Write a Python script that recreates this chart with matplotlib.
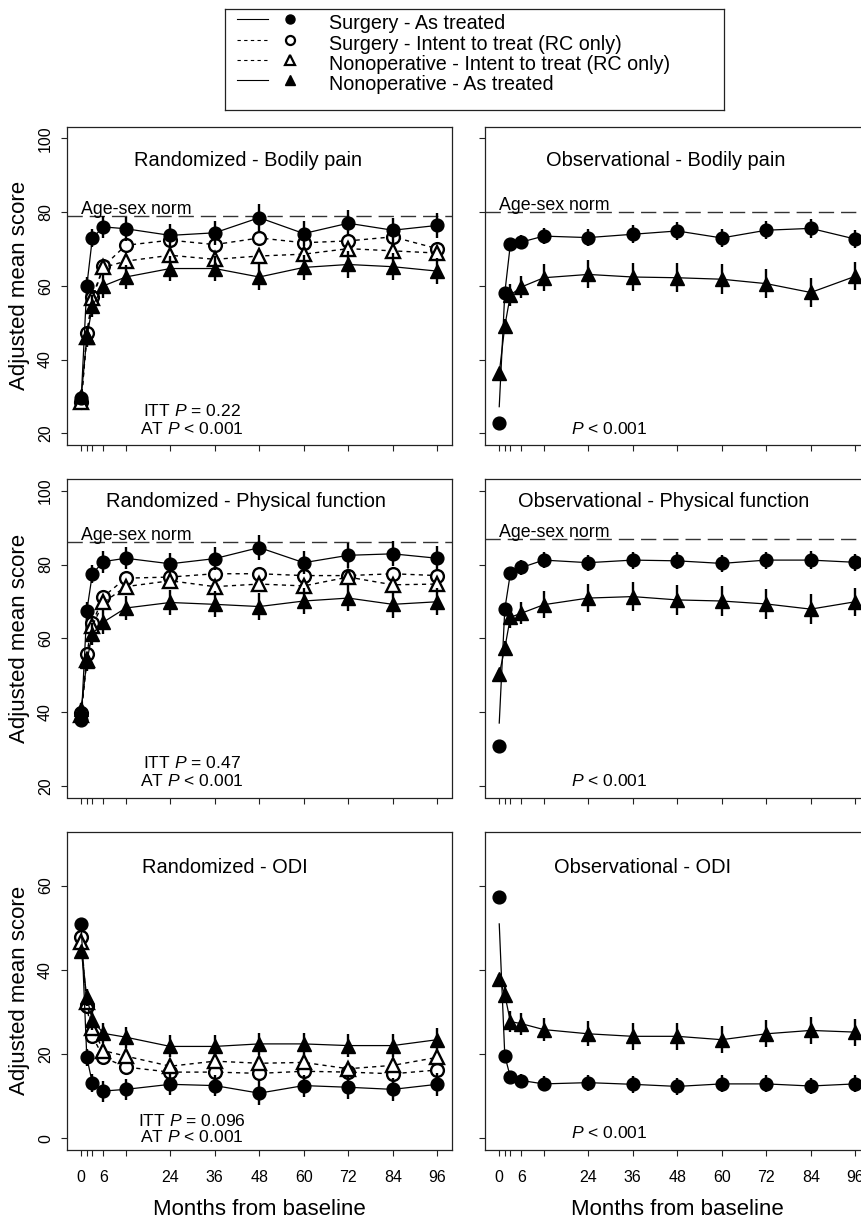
import numpy as np
import matplotlib.pyplot as plt

plt.rcParams['font.family'] = ['Liberation Sans', 'DejaVu Sans']
plt.rcParams['mathtext.fontset'] = 'custom'
plt.rcParams['mathtext.rm'] = 'Liberation Sans'
plt.rcParams['mathtext.it'] = 'Liberation Sans:italic'

W, H = 862, 1219

months = [0, 1.5, 3, 6, 12, 24, 36, 48, 60, 72, 84, 96]
tick_labels = ['0', '', '', '6', '', '24', '36', '48', '60', '72', '84', '96']

legend_labels = ['Surgery - As treated',
                 'Surgery - Intent to treat (RC only)',
                 'Nonoperative - Intent to treat (RC only)',
                 'Nonoperative - As treated']

# Randomized - Bodily pain
bp_rand_sx_at = [29.5, 60, 73, 76, 75.5, 73.7, 74.4, 78.5, 74.2, 77, 75.1, 76.4]
bp_rand_sx_itt = [28.5, 47.1, 57, 65.3, 71, 72.4, 71.2, 73, 71.7, 72.2, 73.3, 70.1]
bp_rand_no_itt = [28.6, 46.2, 56.6, 65, 66.7, 68.3, 67.2, 68.1, 68.6, 70.1, 69.5, 68.9]
bp_rand_no_at = [30, 46, 54.5, 60, 62.4, 64.7, 64.7, 62.4, 65, 65.8, 65.2, 64]
bp_rand_sx_err = [1.5, 2.5, 2.5, 3, 3.2, 3, 3.2, 3.6, 3.3, 3.5, 3.4, 3.5]
bp_rand_no_err = [1.5, 2.5, 3, 3.2, 3.3, 3.5, 3.5, 3.6, 3.5, 3.6, 3.6, 3.6]

# Observational - Bodily pain
bp_obs_sx_at = [22.7, 58.1, 71.3, 71.9, 73.5, 73.1, 74, 74.9, 73, 75.1, 75.6, 72.7]
bp_obs_sx_start = 27.2
bp_obs_no_at = [36.3, 49.1, 57.5, 59.7, 62.2, 63.1, 62.4, 62.2, 61.8, 60.6, 58.2, 62.6]
bp_obs_sx_err = [0, 1.5, 1.5, 2, 2.2, 2.2, 2.4, 2.4, 2.5, 2.4, 2.5, 2.4]
bp_obs_no_err = [1, 2, 3, 3, 3.6, 3.8, 3.8, 4, 4, 4, 4, 3.8]

# Randomized - Physical function
pf_rand_sx_at = [37.7, 67.4, 77.5, 80.8, 81.7, 80.2, 81.6, 84.6, 80.5, 82.5, 82.9, 81.7]
pf_rand_sx_itt = [39.7, 55.8, 64.1, 71.3, 76.3, 76.6, 77.5, 77.5, 77, 77, 77.5, 77]
pf_rand_no_itt = [39.2, 54, 63.4, 69.7, 74, 75.6, 74, 74.7, 74.2, 76.6, 74.5, 74.7]
pf_rand_no_at = [40.8, 53.7, 61.2, 64.4, 68.2, 69.7, 69.2, 68.6, 70.1, 70.9, 69.2, 69.9]
pf_rand_sx_err = [1.5, 2.5, 2.5, 3, 3, 3, 3.2, 3.4, 3.2, 3.4, 3.4, 3.4]
pf_rand_no_err = [1.5, 2.5, 3, 3.2, 3.3, 3.5, 3.5, 3.6, 3.5, 3.6, 3.6, 3.6]

# Observational - Physical function
pf_obs_sx_at = [30.8, 67.9, 77.6, 79.2, 81.2, 80.5, 81.2, 81, 80.3, 81.2, 81.2, 80.6]
pf_obs_sx_start = 37
pf_obs_no_at = [50.3, 57.3, 65.7, 66.8, 69.1, 70.9, 71.3, 70.4, 70.1, 69.3, 67.9, 69.9]
pf_obs_sx_err = [0, 1.2, 1.5, 2, 2.2, 2.2, 2.3, 2.3, 2.4, 2.3, 2.4, 2.3]
pf_obs_no_err = [1, 2, 3, 3, 3.6, 3.8, 4, 4, 4, 4, 4, 3.8]

# Randomized - ODI
odi_rand_sx_at = [50.8, 19.2, 13.1, 11.2, 11.6, 12.8, 12.5, 10.7, 12.5, 12.1, 11.6, 12.8]
odi_rand_sx_itt = [47.7, 31.3, 24.2, 19.2, 16.9, 15.7, 15.7, 15.4, 15.9, 15.7, 15.3, 16.2]
odi_rand_no_itt = [46.6, 32.3, 26.2, 20.8, 19.5, 17.1, 18.3, 17.8, 18, 16.5, 17.3, 19.2]
odi_rand_no_at = [44.4, 33.5, 28, 24.9, 24, 21.8, 21.8, 22.4, 22.4, 22, 22, 23.4]
odi_rand_sx_err = [1, 2, 2.2, 2.5, 2.5, 2.5, 2.5, 2.8, 2.6, 2.7, 2.7, 2.7]
odi_rand_no_err = [1, 2, 2.2, 2.4, 2.5, 2.6, 2.6, 2.7, 2.7, 2.8, 2.8, 2.8]

# Observational - ODI
odi_obs_sx_at = [57.2, 19.6, 14.5, 13.7, 12.9, 13.2, 12.8, 12.3, 12.9, 12.9, 12.4, 12.9]
odi_obs_sx_start = 50.9
odi_obs_no_at = [37.9, 34.1, 27.7, 27.2, 25.8, 24.8, 24.2, 24.2, 23.4, 24.8, 25.6, 25.2]
odi_obs_sx_err = [0, 1.2, 1.5, 1.6, 1.8, 1.9, 2, 2, 2, 2, 2, 2]
odi_obs_no_err = [1, 2, 2.5, 2.6, 2.8, 3, 3.2, 3.2, 3.2, 3.2, 3.2, 3.2]

norm_bp = [79, 80]
norm_pf = [86, 87]

sx_at_style = dict(marker='o', ms=9.2, mfc='black', mec='black', ls='-')
sx_itt_style = dict(marker='o', ms=9.2, mfc='white', mec='black', mew=1.7, ls=(0, (3, 3)))
no_itt_style = dict(marker='^', ms=10.5, mfc='white', mec='black', mew=1.7, ls=(0, (3, 3)))
no_at_style = dict(marker='^', ms=10.5, mfc='black', mec='black', ls='-')

panels = [
    dict(col=0, row=0, title='Randomized - Bodily pain', title_xy=(45, 93.9), norm=norm_bp[0],
         at=[(bp_rand_sx_at, bp_rand_sx_err, None), (bp_rand_no_at, bp_rand_no_err, None)],
         itt=[bp_rand_sx_itt, bp_rand_no_itt], ptext=[(25.9, 'ITT $P$ = 0.22'), (21.2, 'AT $P$ < 0.001')]),
    dict(col=1, row=0, title='Observational - Bodily pain', title_xy=(45, 93.9), norm=norm_bp[1],
         at=[(bp_obs_sx_at, bp_obs_sx_err, bp_obs_sx_start), (bp_obs_no_at, bp_obs_no_err, None)],
         itt=None, ptext=[(21.2, '$P$ < 0.001')]),
    dict(col=0, row=1, title='Randomized - Physical function', title_xy=(44.4, 97), norm=norm_pf[0],
         at=[(pf_rand_sx_at, pf_rand_sx_err, None), (pf_rand_no_at, pf_rand_no_err, None)],
         itt=[pf_rand_sx_itt, pf_rand_no_itt], ptext=[(26.1, 'ITT $P$ = 0.47'), (21.4, 'AT $P$ < 0.001')]),
    dict(col=1, row=1, title='Observational - Physical function', title_xy=(44.4, 97), norm=norm_pf[1],
         at=[(pf_obs_sx_at, pf_obs_sx_err, pf_obs_sx_start), (pf_obs_no_at, pf_obs_no_err, None)],
         itt=None, ptext=[(21.4, '$P$ < 0.001')]),
    dict(col=0, row=2, title='Randomized - ODI', title_xy=(38.7, 64.2), norm=None,
         at=[(odi_rand_sx_at, odi_rand_sx_err, None), (odi_rand_no_at, odi_rand_no_err, None)],
         itt=[odi_rand_sx_itt, odi_rand_no_itt], ptext=[(4.2, 'ITT $P$ = 0.096'), (0.4, 'AT $P$ < 0.001')]),
    dict(col=1, row=2, title='Observational - ODI', title_xy=(38.7, 64.2), norm=None,
         at=[(odi_obs_sx_at, odi_obs_sx_err, odi_obs_sx_start), (odi_obs_no_at, odi_obs_no_err, None)],
         itt=None, ptext=[(1.2, '$P$ < 0.001')]),
]

col_x = [67, 485]
panel_w = 384.5
row_y = [(126.7, 445), (479, 797.5), (831.7, 1150)]
frame_col = '#222222'


def rect(x0, y0, x1, y1):
    return [x0 / W, 1 - y1 / H, (x1 - x0) / W, (y1 - y0) / H]


fig = plt.figure(figsize=(W / 100, H / 100), dpi=100)

for p in panels:
    x0 = col_x[p['col']]
    y0, y1 = row_y[p['row']]
    ax = fig.add_axes(rect(x0, y0, x0 + panel_w, y1))
    ax.set_xlim(-3.84, 99.84)
    if p['row'] < 2:
        ax.set_ylim(16.8, 103.2)
        ax.set_yticks([20, 40, 60, 80, 100])
    else:
        ax.set_ylim(-2.8, 72.8)
        ax.set_yticks([0, 20, 40, 60])
    ax.set_xticks(months)
    if p['row'] == 2:
        ax.set_xticklabels(tick_labels, fontsize=11.5)
        ax.set_xlabel('Months from baseline', fontsize=16, labelpad=10)
    else:
        ax.set_xticklabels([])
    if p['col'] == 0:
        ax.tick_params(axis='y', labelsize=11.5, labelrotation=90, pad=5.5)
        for lbl in ax.get_yticklabels():
            lbl.set_va('center')
        ax.set_ylabel('Adjusted mean score', fontsize=16, labelpad=6)
    else:
        ax.set_yticklabels([])
    ax.tick_params(direction='out', length=4.5, width=0.8, color=frame_col)
    ax.tick_params(axis='x', pad=10)
    for s in ax.spines.values():
        s.set_linewidth(0.9)
        s.set_color(frame_col)

    if p['norm'] is not None:
        ax.axhline(p['norm'], color='#333333', lw=1.0, dashes=(11, 5))
        ax.text(0, p['norm'] + 0.6, 'Age-sex norm', fontsize=12.8, ha='left', va='baseline')

    # ITT series (dashed, open markers)
    if p['itt'] is not None:
        ax.plot(months, p['itt'][0], color='black', lw=1.0, zorder=3, **sx_itt_style)
        ax.plot(months, p['itt'][1], color='black', lw=1.0, zorder=3, **no_itt_style)

    # As-treated series with error bars
    for (vals, err, start), style in zip(p['at'], [sx_at_style, no_at_style]):
        vals = np.array(vals)
        err = np.array(err)
        ax.vlines(months, vals - err, vals + err, color='black', lw=1.7, zorder=4)
        if start is None:
            ax.plot(months, vals, color='black', lw=0.9, zorder=5, **style)
        else:
            line_vals = np.concatenate([[start], vals[1:]])
            ax.plot(months, line_vals, color='black', lw=0.9, zorder=5, ls='-')
            ax.plot(months, vals, color='black', lw=0, zorder=5,
                    **{k: v for k, v in style.items() if k != 'ls'})

    ax.text(p['title_xy'][0], p['title_xy'][1], p['title'], fontsize=14.4,
            ha='center', va='center')
    for yv, txt in p['ptext']:
        ax.text(29.8, yv, txt, fontsize=12.6, ha='center', va='center')

# legend box drawn by hand (line sample and marker side by side, as in the original)
lax = fig.add_axes(rect(225, 9, 724, 110))
lax.set_xlim(225, 724)
lax.set_ylim(110, 9)
lax.set_xticks([])
lax.set_yticks([])
for s in lax.spines.values():
    s.set_linewidth(0.9)
    s.set_color(frame_col)
legend_styles = [('-', 'o', 'black'), ((0, (3, 3)), 'o', 'white'),
                 ((0, (3, 3)), '^', 'white'), ('-', '^', 'black')]
row_ys = [19.3, 40, 60, 80]
for ry, (ls, mk, fc), lab in zip(row_ys, legend_styles, legend_labels):
    lax.plot([237, 268], [ry, ry], color='black', lw=0.8, ls=ls)
    lax.plot([290], [ry], marker=mk, ms=6.5 if mk == 'o' else 7.5, mfc=fc, mec='black',
             mew=1.6 if fc == 'white' else 1, ls='none')
    lax.text(329, ry + 4, lab, fontsize=14.2, ha='left', va='center')

fig.savefig('out.png', dpi=100)
